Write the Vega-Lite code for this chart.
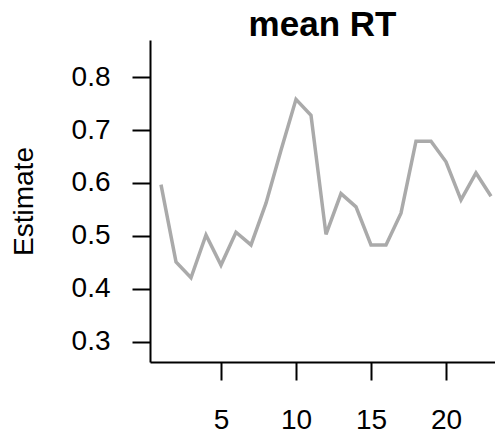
{
  "$schema": "https://vega.github.io/schema/vega-lite/v6.json",
  "autosize": "none",
  "width": 345,
  "height": 322,
  "padding": {"left": 150, "top": 40, "right": 0, "bottom": 71},
  "background": "white",
  "title": {"text": "mean RT", "font": "Liberation Sans", "fontSize": 35, "fontWeight": "bold", "color": "black", "offset": -3, "anchor": "middle"},
  "data": {"values": [
    {"x": 1, "y": 0.597},
    {"x": 2, "y": 0.451},
    {"x": 3, "y": 0.421},
    {"x": 4, "y": 0.502},
    {"x": 5, "y": 0.445},
    {"x": 6, "y": 0.507},
    {"x": 7, "y": 0.483},
    {"x": 8, "y": 0.562},
    {"x": 9, "y": 0.662},
    {"x": 10, "y": 0.758},
    {"x": 11, "y": 0.728},
    {"x": 12, "y": 0.503},
    {"x": 13, "y": 0.58},
    {"x": 14, "y": 0.555},
    {"x": 15, "y": 0.483},
    {"x": 16, "y": 0.483},
    {"x": 17, "y": 0.543},
    {"x": 18, "y": 0.679},
    {"x": 19, "y": 0.679},
    {"x": 20, "y": 0.64},
    {"x": 21, "y": 0.568},
    {"x": 22, "y": 0.619},
    {"x": 23, "y": 0.575}
  ]},
  "config": {
    "view": {"stroke": null},
    "axis": {
      "grid": false,
      "domainColor": "black",
      "domainWidth": 2,
      "tickColor": "black",
      "tickWidth": 2,
      "tickSize": 18,
      "labelFont": "Liberation Sans",
      "labelFontSize": 28,
      "labelColor": "black",
      "titleFont": "Liberation Sans",
      "titleFontSize": 28,
      "titleFontWeight": "normal",
      "titleColor": "black"
    }
  },
  "mark": {"type": "line", "color": "#aaaaaa", "strokeWidth": 3.5, "clip": true},
  "encoding": {
    "x": {"field": "x", "type": "quantitative", "scale": {"domain": [0.267, 23.267], "nice": false, "zero": false},
      "axis": {"title": null, "values": [5, 10, 15, 20], "labelPadding": 26, "labelFlush": false}},
    "y": {"field": "y", "type": "quantitative", "scale": {"domain": [0.262, 0.87], "nice": false, "zero": false},
      "axis": {"title": "Estimate", "values": [0.3, 0.4, 0.5, 0.6, 0.7, 0.8], "format": ".1f", "labelPadding": 22, "titlePadding": 33, "labelFlush": false}}
  }
}
